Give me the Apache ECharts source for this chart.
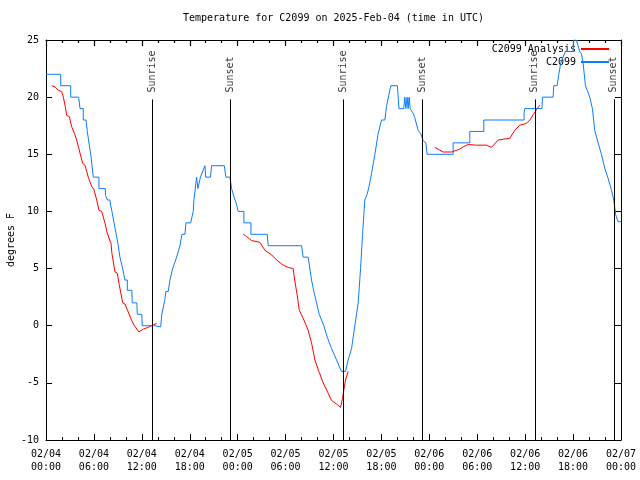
<!DOCTYPE html>
<html>
<head>
<meta charset="utf-8">
<script src="https://cdn.jsdelivr.net/npm/echarts@6/dist/echarts.min.js"></script>
<style>html,body{margin:0;padding:0;background:#fff}#c{width:640px;height:480px}</style>
</head>
<body>
<div id="c"></div>
<script>
// ---- Data (hours since 2025-02-04 00:00 UTC, degrees F) ----
const blueHours = [0,1.84,1.84,3.09,3.09,4.09,4.09,4.26,4.26,4.67,4.67,5.01,5.17,5.38,5.6,5.76,5.92,6.63,6.63,7.42,7.45,7.67,7.7,8.0,8.1,8.26,8.45,9.05,9.26,9.6,9.89,10.18,10.18,10.75,10.8,11.38,11.43,12.0,12.05,13.6,13.7,14.36,14.5,14.86,15.02,15.31,15.52,15.86,16.11,16.36,16.61,16.77,17.02,17.4,17.52,18.11,18.44,18.52,18.86,19.02,19.19,19.34,19.5,19.9,20.0,20.6,20.74,22.32,22.53,23.03,23.24,23.53,23.78,24.07,24.78,24.78,25.66,25.66,27.7,27.82,32.0,32.2,32.83,33.25,33.54,33.88,34.21,34.79,35.21,35.76,36.38,37.0,37.51,37.83,38.26,38.67,39.09,39.39,39.64,39.92,40.21,40.46,40.76,41.18,41.59,42.01,42.43,42.64,43.05,43.18,44.0,44.2,44.8,44.93,45.06,45.22,45.34,45.47,45.6,45.97,46.18,46.6,46.93,47.22,47.56,47.72,50.98,50.98,53.07,53.07,54.82,54.82,59.86,59.86,59.95,59.95,62.1,62.17,63.5,63.58,64.0,64.21,64.46,65.04,65.99,66.08,66.4,66.62,66.83,67.05,67.25,67.55,68.09,68.42,68.71,69.13,69.55,69.96,70.38,70.8,71.09,71.34,71.63,72];
const blueValues = [22,22,21,21,20,20,19.9,19.9,19,19,18,18,17,16,15,14,13,13,12,12,11.4,11.4,11,11,10.5,10,10,7,6,5,4,4,3.1,3.1,2,2,1,1,0,0,-0.1,-0.1,1,2.2,3,3,4,5,5,6,6,7,8,8,9,9,10,11,13,12,12,13,13,14,13,13,14,14,13,13,12,11.3,10.8,10,10,9,9,8,8,7,7,6,6,4,3,2,1,0,-1,-2,-3,-4,-4,-3,-2,0,2,5,8,11,11.5,12.2,13.3,15,16.8,18,18,19.2,20.6,21,21,19,19,20,19,20,19,20,19,18.6,18.2,17.1,16.8,16.2,16,15,15,16,16,17,17,18,18,18.6,18.6,19,19,20,20,21,21,22,23,24,24,25,25,24.5,24,23.8,23,21,20,19,17.1,16,15,13.8,12.9,11.9,11,9.7,9.1,9.1];

const redHours = [0.71,1.13,1.54,1.96,2.17,2.38,2.59,2.92,3.22,3.63,3.84,4.26,4.59,4.88,5.29,5.72,6.01,6.35,6.63,6.97,7.38,7.67,7.92,8.14,8.26,8.64,8.92,9.17,9.6,9.89,10.3,10.64,10.85,11.01,11.64,11.89,12.18,12.8,13.23,13.85,
  19.0,
  24.69,25.12,25.74,26.78,27.41,28.25,28.87,29.7,30.33,30.95,31.16,31.45,31.7,32.2,32.83,33.25,33.67,34.17,34.71,35.33,35.76,36.38,36.88,37.13,37.3,37.51,37.83,
  43.0,
  48.69,49.1,49.72,50.78,51.19,51.81,52.23,52.85,53.9,55.16,55.78,56.61,56.82,58.07,58.7,59.32,60.16,60.58,60.99,61.41,61.83];
const redValues = [21.0,20.9,20.6,20.5,20.0,19.3,18.4,18.3,17.4,16.7,16.25,15.1,14.2,14.05,13.0,12.2,11.9,11.0,10.1,10.0,9.0,8.1,8.05,7.2,6.3,4.7,4.6,3.6,2.0,1.9,1.2,0.6,0.5,0.07,-0.55,-0.5,-0.3,-0.14,0,0.2,
  null,
  8.0,7.8,7.45,7.3,6.6,6.2,5.75,5.3,5.1,5.0,3.9,2.7,1.4,0.65,-0.4,-1.5,-3.0,-4.0,-5.0,-5.9,-6.55,-6.85,-7.15,-6.35,-5.6,-4.75,-4.0,
  null,
  15.6,15.45,15.2,15.2,15.3,15.45,15.65,15.85,15.8,15.8,15.6,16.25,16.4,16.4,17.1,17.55,17.7,18.0,18.45,18.9,19.3];

const eventNames = ['Sunrise','Sunset','Sunrise','Sunset','Sunrise','Sunset'];
const eventHours = [13.3, 23.1, 37.2, 47.1, 61.2, 71.1];
const eventLineTop = 19.8;
const eventLabelAt = 20.4;

const xDateLabels = ['02/04','02/05','02/06','02/07'];
const xTimeLabels = ['00:00','06:00','12:00','18:00'];
const yMin = -10, yMax = 25, yStep = 5;
const xMin = 0, xMax = 72, xStep = 6;

const FONT = 'DejaVu Sans Mono';
const BLUE = '#0a7cff';
const RED = '#ff0000';

const blueData = blueHours.map((h, i) => [h, blueValues[i]]);
const redData = redHours.map((h, i) => [h, redValues[i]]);

const chart = echarts.init(document.getElementById('c'), null, {renderer: 'canvas'});

const option = {
  animation: false,
  backgroundColor: '#fff',
  title: {
    text: 'Temperature for C2099 on 2025-Feb-04 (time in UTC)',
    left: 333.5, top: 13, padding: 0, textAlign: 'center',
    textStyle: {fontFamily: FONT, fontSize: 10, fontWeight: 'normal', color: '#000'}
  },
  legend: {
    data: ['C2099 Analysis', 'C2099'],
    orient: 'vertical', align: 'right',
    right: 30, top: 42.5, padding: 0,
    itemWidth: 28, itemHeight: 13, itemGap: 0,
    itemStyle: {opacity: 0},
    textStyle: {fontFamily: FONT, fontSize: 10, color: '#000', lineHeight: 13}
  },
  grid: {left: 46, right: 19, top: 40, bottom: 40, containLabel: false, outerBoundsMode: 'none'},
  xAxis: [
    {
      type: 'value', min: xMin, max: xMax, interval: xStep, position: 'bottom',
      axisLine: {show: true, onZero: false, lineStyle: {color: '#000', width: 1}},
      axisTick: {show: true, inside: true, length: 6, lineStyle: {color: '#000', width: 1}},
      minorTick: {show: true, splitNumber: 3, length: 3, lineStyle: {color: '#000', width: 1}},
      splitLine: {show: false},
      axisLabel: {
        show: true, margin: 8, fontFamily: FONT, fontSize: 10, color: '#000', lineHeight: 13,
        formatter: v => xDateLabels[Math.floor(v / 24)] + '\n' + xTimeLabels[(v % 24) / 6]
      }
    },
    {
      type: 'value', min: xMin, max: xMax, interval: xStep, position: 'top',
      axisLine: {show: true, onZero: false, lineStyle: {color: '#000', width: 1}},
      axisTick: {show: true, inside: true, length: 6, lineStyle: {color: '#000', width: 1.2}},
      minorTick: {show: true, splitNumber: 3, length: 3, lineStyle: {color: '#000', width: 1.2}},
      splitLine: {show: false},
      axisLabel: {show: true, color: 'rgba(0,0,0,0)', formatter: () => ''}
    }
  ],
  yAxis: [
    {
      type: 'value', min: yMin, max: yMax, interval: yStep, position: 'left',
      axisLine: {show: true, onZero: false, lineStyle: {color: '#000', width: 1}},
      axisTick: {show: true, inside: true, length: 6, lineStyle: {color: '#000', width: 1}},
      splitLine: {show: false},
      name: 'degrees F', nameLocation: 'middle', nameGap: 30, nameRotate: 90, nameMoveOverlap: false,
      nameTextStyle: {fontFamily: FONT, fontSize: 10, color: '#000'},
      axisLabel: {show: true, margin: 7, fontFamily: FONT, fontSize: 10, color: '#000'}
    },
    {
      type: 'value', min: yMin, max: yMax, interval: yStep, position: 'right',
      axisLine: {show: true, onZero: false, lineStyle: {color: '#000', width: 1}},
      axisTick: {show: true, inside: true, length: 6, lineStyle: {color: '#000', width: 1}},
      splitLine: {show: false},
      axisLabel: {show: false}
    }
  ],
  series: [
    {
      name: 'events', type: 'line', data: [], silent: true, z: 1,
      markLine: {
        silent: true, symbol: ['none', 'none'], animation: false,
        label: {show: false},
        lineStyle: {color: '#000', width: 1, type: 'solid'},
        data: eventHours.map(h => [{coord: [h, yMin]}, {coord: [h, eventLineTop]}])
      }
    },
    {
      name: 'event labels', type: 'scatter', silent: true, z: 1,
      symbol: 'circle', symbolSize: 0.01, itemStyle: {color: 'rgba(0,0,0,0)'},
      data: eventHours.map((h, i) => ({value: [h, eventLabelAt], name: eventNames[i]})),
      label: {
        show: true, position: 'inside', rotate: 90, align: 'left', verticalAlign: 'middle',
        formatter: p => p.name,
        fontFamily: FONT, fontSize: 10, color: '#000'
      }
    },
    {
      name: 'C2099 Analysis', type: 'line', data: redData, z: 3,
      symbol: 'none', showSymbol: false, connectNulls: false,
      lineStyle: {color: RED, width: 1}, itemStyle: {color: RED}
    },
    {
      name: 'C2099', type: 'line', data: blueData, z: 4,
      symbol: 'none', showSymbol: false,
      lineStyle: {color: BLUE, width: 1}, itemStyle: {color: BLUE}
    }
  ]
};
chart.setOption(option);
</script>
</body>
</html>
